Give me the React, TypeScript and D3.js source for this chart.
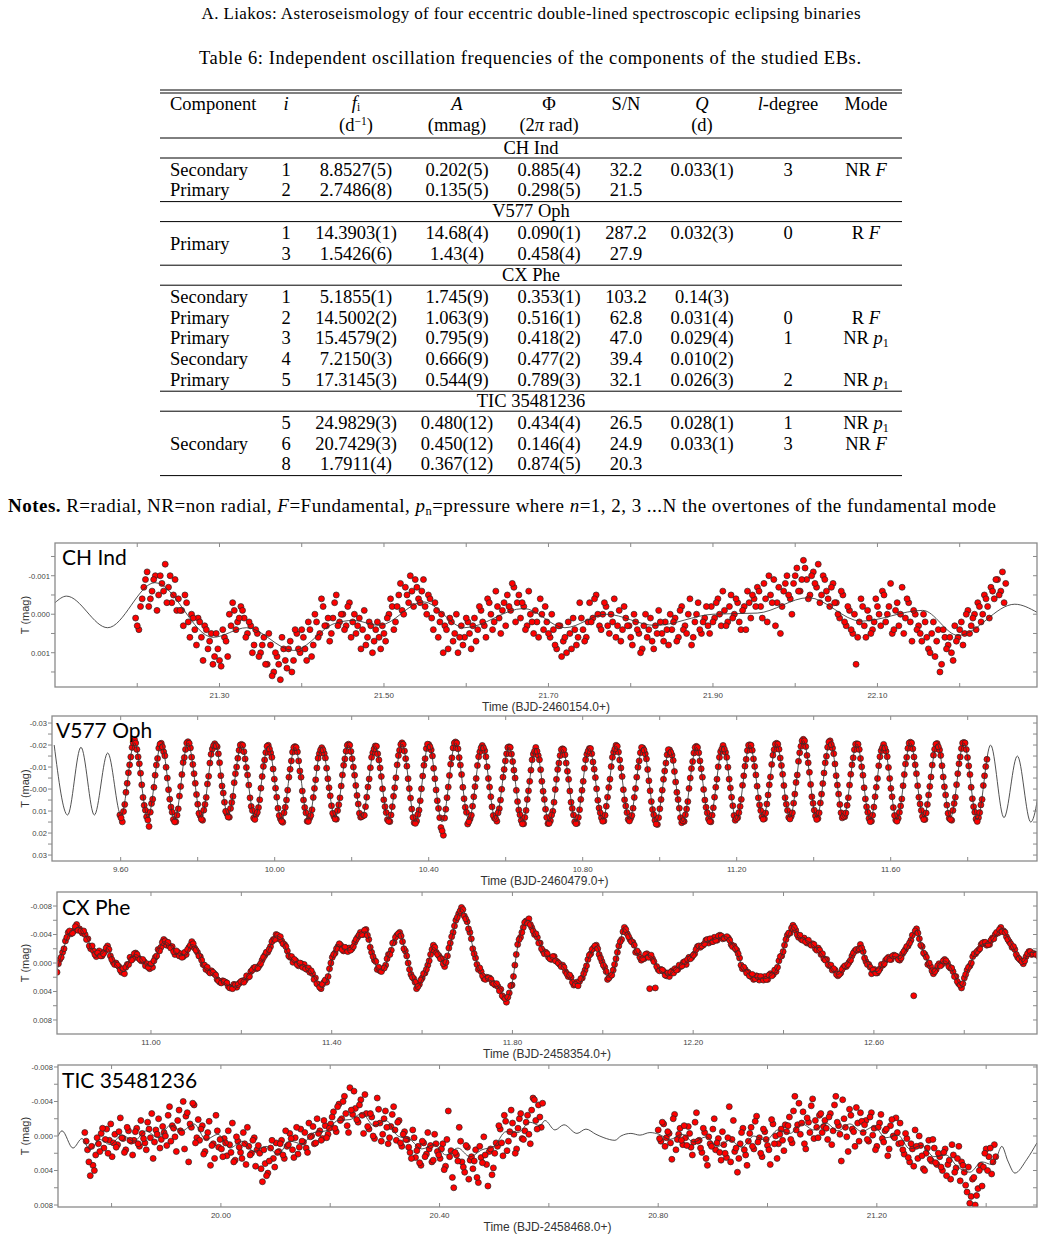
import React from "react";
import * as d3 from "d3";

// ================= Page text =================
const runningHead = "A. Liakos: Asteroseismology of four eccentric double-lined spectroscopic eclipsing binaries";
const tableCaption = "Table 6: Independent oscillation frequencies of the components of the studied EBs.";

// ================= Table data =================
const systemNames = ["CH Ind", "V577 Oph", "CX Phe", "TIC 35481236"];
const systemRowCounts = [2, 2, 5, 3];
const rowComponent = ["Secondary", "Primary", "Primary", "", "Secondary", "Primary", "Primary", "Secondary", "Primary", "Secondary", "", ""];
const rowComponentSpan = [1, 1, 2, 0, 1, 1, 1, 1, 1, 3, 0, 0];
const rowIndex = ["1", "2", "1", "3", "1", "2", "3", "4", "5", "5", "6", "8"];
const rowFreq = ["8.8527(5)", "2.7486(8)", "14.3903(1)", "1.5426(6)", "5.1855(1)", "14.5002(2)", "15.4579(2)", "7.2150(3)", "17.3145(3)", "24.9829(3)", "20.7429(3)", "1.7911(4)"];
const rowAmp = ["0.202(5)", "0.135(5)", "14.68(4)", "1.43(4)", "1.745(9)", "1.063(9)", "0.795(9)", "0.666(9)", "0.544(9)", "0.480(12)", "0.450(12)", "0.367(12)"];
const rowPhase = ["0.885(4)", "0.298(5)", "0.090(1)", "0.458(4)", "0.353(1)", "0.516(1)", "0.418(2)", "0.477(2)", "0.789(3)", "0.434(4)", "0.146(4)", "0.874(5)"];
const rowSN = ["32.2", "21.5", "287.2", "27.9", "103.2", "62.8", "47.0", "39.4", "32.1", "26.5", "24.9", "20.3"];
const rowQ = ["0.033(1)", "", "0.032(3)", "", "0.14(3)", "0.031(4)", "0.029(4)", "0.010(2)", "0.026(3)", "0.028(1)", "0.033(1)", ""];
const rowL = ["3", "", "0", "", "", "0", "1", "", "2", "1", "3", ""];
const rowModeType = ["NR", "", "R", "", "", "R", "NR", "", "NR", "NR", "NR", ""];
const rowModeSymbol = ["F", "", "F", "", "", "F", "p1", "", "p1", "p1", "F", ""];

// ================= Light-curve data (magnitudes in mmag) =================
// ---- CH Ind ----
const chIndXDomain = [21.1, 22.294];
const chIndYDomain = [-1.85, 1.89];
const chIndCadence = 0.004;
const chIndStartA = 21.198;
const chIndMagA = [
  0.1, 0.4, -0.4, -0.9, -0.2, -0.6, -1.0, -0.5, -0.8, -1.3, -0.7, -0.3, -0.9,
  -0.4, -0.1, -0.5, 0.2, 0.0, 0.4, 0.1, 0.6, 0.3, 0.9, 0.5, 1.1,
  0.9, 1.35, 0.6, 1.1, 0.3, -0.1, 0.2, -0.2, 0.1, 0.5, 0.3, 0.8, 0.5,
  1.0, 0.6, 1.3, 0.8, 1.5, 1.1, 1.7, 0.9, 1.4, 0.7, 1.2, 0.5,
  1.0, 0.6, 1.2, 0.4, 0.8, 0.2, 0.5, -0.2, 0.3, 0.7, 0.1, -0.5, 0.2,
  0.0, 0.3, -0.3, 0.2, 0.5, 0.1, 0.4, 0.8, 0.2, 1.0, 0.4, 0.6,
  0.3, 0.7, 0.0, -0.2, 0.2, -0.5, -0.1, -0.7, -0.3, -0.6, -0.9, -0.4, -0.6,
  -0.2, -0.5, 0.1, -0.3, 0.6, 0.0, 0.3, 0.9, 0.2, 0.5, 1.0, 0.3,
  0.6, 0.2, 0.9, 0.1, 0.4, -0.1, 0.3, -0.4, 0.0, 0.2, -0.2, 0.5, -0.3,
  -0.5, -0.1, -0.7, -0.3, 0.1, -0.2, 0.3, 0.0, 0.5, 0.2, -0.4, 0.4,
  0.2, 0.6, 0.4, 0.9, 0.3, 0.7, 1.0, 0.5, 0.1, 0.8, -0.3, 0.4, 0.6,
  -0.3, 0.1, -0.5, 0.3, 0.0, -0.2, 0.5, 0.2, 0.6, -0.1, 0.4, 0.1,
  0.3, 0.8, 0.2, 0.5, 0.9, 0.0, 0.4, 0.7, 0.3, -0.1, 0.5, 0.2, 0.8,
  0.4, 0.1, 0.6, -0.2, 0.3, 0.0, 0.8, 0.2, -0.3, 0.5, 0.1, 0.3,
  -0.2, 0.1, -0.4, 0.3, -0.1, 0.2, -0.5, 0.0, -0.3, 0.4, -0.2, -0.6, 0.1,
  -0.4, -0.7, -0.2, -0.8, 0.2, -0.5, -0.9, -0.3, 0.5, -0.6, -1.0, -0.4,
  -0.8, -1.2, -0.6, -1.4, -0.9, -0.5, -1.1, -0.7, -0.3, -1.0, -0.6, -0.2, -0.8,
  -0.3, 0.1, -0.5, 0.3, -0.1, 0.5, 1.3, 0.2, -0.2, 0.6, 0.1, 0.4,
  -0.4, 0.0, -0.6, 0.2, -0.2, 0.5, -0.1, 0.3, -0.7, 0.1, -0.3, 0.7, 0.0,
  0.3, 0.7, 0.2, 0.9, 0.5, 1.1, 0.4, 1.3, 0.6, 0.8, 1.0, 0.3,
  0.6, 0.2, 0.5, -0.1, 0.3, 0.0, -0.3, 0.2, -0.5, -0.2, -0.7, -0.4, -0.9, -0.6, -0.3,
];
const chIndStartB = 21.2;
const chIndMagB = [
  0.3, -0.2, -0.7, -1.1, -0.4, -0.9, -0.1, -1.0, -0.6, -0.3, -1.0, -0.5, -0.1,
  -0.1, 0.3, -0.3, 0.6, 0.1, 0.8, 0.2, 1.2, 0.4, 0.7, 1.3, 0.5,
  1.2, 0.4, 0.7, 0.0, -0.3, 0.4, 0.1, -0.1, 0.6, 0.2, 1.0, 0.4, 1.1,
  0.8, 1.3, 0.5, 1.6, 1.0, 1.3, 0.6, 1.2, 0.9, 1.5, 0.4, 0.9,
  0.4, 0.9, 0.2, 1.1, 0.0, 0.6, -0.4, 0.3, 0.1, 0.5, -0.3, 0.3, 0.0,
  0.4, -0.2, 0.6, 0.0, 0.3, 0.9, -0.1, 0.6, 0.3, 0.7, 0.2, 0.9,
  0.5, 0.1, -0.4, 0.4, -0.2, -0.8, 0.0, -0.5, -1.0, -0.2, -0.7, -0.3, -0.9,
  0.0, -0.4, 0.4, -0.1, 0.2, 1.0, 0.4, 0.1, 0.7, 0.0, 0.6, 0.8,
  0.1, 0.5, 0.3, 0.7, -0.2, 0.2, 0.6, -0.3, 0.4, -0.6, 0.1, -0.1, 0.3,
  -0.2, -0.8, 0.2, -0.5, -0.3, 0.4, -0.6, 0.2, -0.1, 0.6, 0.0, -0.2,
  0.5, 0.0, 0.8, 0.3, 1.1, 0.6, 0.2, 0.9, 0.4, 0.6, 0.1, 0.7, 0.2,
  0.2, -0.4, 0.0, 0.4, -0.3, 0.3, 0.0, -0.4, 0.3, 0.7, -0.2, 0.3,
  0.6, 0.0, 0.4, 1.0, 0.3, 0.6, 0.1, 0.9, 0.5, 0.2, 0.7, 0.4, 0.0,
  0.2, 0.7, -0.1, 0.4, 0.5, -0.4, 0.6, 0.0, 0.4, 0.2, -0.2, 0.5,
  0.2, -0.3, 0.0, -0.6, 0.3, -0.2, 0.1, -0.4, 0.2, -0.1, 0.4, -0.3, -0.5,
  -0.2, -0.6, 0.1, -0.4, -1.0, -0.3, 0.3, -0.7, -0.2, -0.8, -0.5, 0.0,
  -1.0, -0.6, -0.9, -1.2, -0.4, -1.0, -0.8, -1.3, -0.5, -0.9, -0.4, -0.7, -0.3,
  0.0, -0.6, 0.2, -0.2, 0.4, 0.0, 0.6, -0.4, 0.3, -0.1, 0.5, 0.2,
  -0.2, 0.3, -0.5, 0.0, -0.8, 0.4, -0.3, 0.0, 0.5, -0.4, 0.2, -0.1, 0.4,
  0.5, 0.0, 0.6, 1.0, 0.2, 0.7, 1.5, 0.4, 0.9, 0.6, 1.2, 0.7,
  0.4, 0.8, 0.0, 0.5, 0.1, 0.4, -0.2, 0.0, -0.4, 0.1, -0.6, -0.9, -0.5, -1.1, -0.8,
];
const chIndModelT = [21.1, 21.114, 21.164, 21.2215, 21.292, 21.333, 21.39, 21.44, 21.463, 21.494, 21.548, 21.598, 21.67, 21.72, 21.77, 21.83, 21.9, 21.954, 22.016, 22.08, 22.155, 22.198, 22.267, 22.294];
const chIndModelMag = [-0.3, -0.47, 0.35, -0.82, 0.6, 0.35, 0.94, 0.24, 0.16, 0.29, -0.32, 0.35, -0.15, 0.35, 0.0, 0.29, 0.0, -0.03, -0.43, 0.18, -0.1, 0.55, -0.26, -0.05];
const chIndXTicks = [21.2, 21.3, 21.4, 21.5, 21.6, 21.7, 21.8, 21.9, 22.0, 22.1, 22.2];
const chIndXLabels = [21.3, 21.5, 21.7, 21.9, 22.1];
const chIndYTicks = [-1.5, -1, -0.5, 0, 0.5, 1, 1.5];
const chIndYLabelVals = [-1, 0, 1];
const chIndYLabelText = ["-0.001", "0.000", "0.001"];

// ---- V577 Oph ----
const v577XDomain = [9.4216, 11.98];
const v577YDomain = [-33.2, 32.7];
const v577Frequency = 14.3903; // d^-1 (Table 6, f1)
const v577FirstPeak = 9.4273;
const v577ModelExtrema = [
  -20, 11.8, -19, 11.8, -16.4, 12, -21, 13, -20.5, 14, -21, 13, -21, 12, -20, 13, -19.5, 14, -19, 14,
  -19, 13, -20, 13, -19.5, 14, -20.5, 15, -20.5, 15, -21, 14, -20, 14, -19, 15, -18.5, 15, -18, 15,
  -18.5, 14, -19.5, 14, -19, 15, -18, 15, -19, 14, -19.5, 14, -20, 13, -20.5, 13, -22, 13, -21.5, 13,
  -20.5, 14, -20, 14, -21, 13, -20.5, 13, -21, 14, -20, 13, -15, 15, -18,
];
const v577Start = 9.5979;
const v577MagA = [
  11.8, 14.9, 7.0, -2.6, -11.0, -18.9,
  -22.4, -18.0, -11.5, -1.9, 7.4, 12.6, 17.0, 6.6, -0.8, -10.9, -18.6,
  -20.8, -16.9, -9.9, 0.3, 8.2, 13.8, 14.9, 9.0, -1.2, -12.1, -18.0,
  -21.5, -18.7, -11.2, -2.6, 6.9, 12.1, 14.2, 7.0, -2.3, -11.8, -18.2,
  -20.6, -19.2, -12.0, -1.4, 6.0, 11.2, 12.8, 6.1, -2.9, -10.0, -17.6,
  -20.3, -17.0, -9.8, -1.8, 7.9, 13.2, 11.6, 8.4, -0.4, -10.3, -16.6,
  -19.9, -16.4, -9.1, -0.4, 8.7, 13.5, 15.1, 8.3, 0.5, -9.0, -16.8,
  -19.3, -16.9, -8.2, 0.9, 8.4, 14.6, 13.2, 9.4, -0.3, -9.6, -16.1,
  -18.8, -16.2, -9.5, -0.6, 7.6, 12.4, 13.7, 7.1, -1.4, -10.8, -17.2,
  -20.4, -17.1, -10.0, -1.6, 6.8, 12.8, 12.1, 8.0, -0.9, -9.7, -16.5,
  -19.6, -16.0, -9.6, -0.1, 8.0, 13.9, 14.8, 8.0, -0.6, -11.0, -17.6,
  -21.0, -17.3, -10.4, -0.2, 9.1, 15.3, 14.5, 9.6, -0.1, -10.8, -18.4,
  -20.2, -17.8, -9.4, 0.4, 8.8, 17.5, 21.0, 9.2, -0.9, -11.3, -18.7,
  -21.4, -18.3, -10.9, -0.8, 8.3, 15.9, 13.5, 7.8, -1.1, -10.7, -16.9,
  -19.8, -17.4, -10.1, -0.9, 8.1, 13.2, 14.6, 8.9, 0.1, -8.9, -16.0,
  -19.2, -15.9, -8.6, 0.6, 9.5, 14.3, 15.8, 9.7, 0.8, -8.6, -15.9,
  -18.9, -15.2, -8.8, 1.0, 9.2, 15.7, 14.4, 10.1, 0.2, -8.9, -15.2,
  -18.3, -15.6, -8.1, 0.9, 8.8, 14.9, 15.6, 9.4, 0.6, -9.4, -15.8,
  -18.4, -16.1, -9.0, -0.1, 8.6, 13.1, 14.5, 7.8, -0.7, -10.2, -16.7,
  -19.9, -16.8, -9.6, 0.3, 7.7, 13.8, 13.3, 8.7, -0.2, -9.9, -16.5,
  -18.7, -16.0, -8.9, 0.8, 9.3, 14.2, 16.1, 9.0, 0.5, -8.2, -15.6,
  -17.8, -15.4, -8.0, 1.5, 8.7, 15.3, 14.7, 9.1, -0.3, -9.3, -16.4,
  -19.4, -16.5, -9.2, 0.2, 8.3, 13.6, 14.9, 8.5, -0.8, -10.1, -17.0,
  -19.8, -16.7, -9.9, -0.5, 7.6, 14.2, 13.0, 7.9, -1.7, -10.4, -17.5,
  -20.1, -17.6, -10.3, -1.3, 7.2, 12.6, 13.5, 6.8, -1.9, -11.2, -17.9,
  -20.8, -18.1, -10.7, -1.6, 6.9, 12.9, 12.4, 6.4, -3.0, -12.6, -19.4,
  -22.6, -19.3, -11.9, -2.1, 6.5, 12.2, 13.4, 6.3, -2.5, -11.9, -19.0,
  -21.9, -18.6, -11.4, -1.8, 7.0, 13.1, 12.6, 7.4, -1.8, -11.0, -17.9,
  -20.6, -18.0, -10.1, -0.6, 8.1, 13.4, 14.6, 8.2, -0.8, -10.6, -17.4,
  -20.3, -17.2, -9.8, -0.3, 8.4, 14.1, 13.3, 7.7, -1.5, -11.4, -18.5,
  -21.3, -18.3, -11.0, -1.5, 6.8, 12.5, 13.8, 7.0, -1.2, -10.9, -18.1,
  -20.7, -17.8, -10.6, -1.0, 7.3, 13.3, 14.2, 6.6, -2.0, -11.5, -18.4,
  -21.2, -18.0, -10.5, -0.8, 8.0, 13.6, 13.0, 7.2, -1.6, -10.2,
];
const v577MagB = [
  13.1, 10.2, 1.5, -7.4, -14.6, -21.0,
  -20.9, -14.6, -7.2, 3.8, 9.6, 14.1, 10.5, 4.6, -6.3, -13.9, -20.4,
  -19.2, -15.1, -5.0, 4.6, 10.5, 14.9, 11.9, 3.2, -6.6, -14.3, -20.9,
  -20.8, -14.5, -7.0, 2.5, 11.0, 13.7, 9.6, 3.8, -5.8, -15.8, -19.7,
  -19.7, -16.0, -6.1, 1.8, 10.1, 12.7, 8.8, 3.3, -7.0, -14.0, -20.0,
  -19.9, -13.7, -6.4, 4.0, 9.8, 13.8, 10.6, 4.9, -5.7, -13.2, -19.4,
  -18.2, -14.4, -4.5, 3.7, 12.0, 14.6, 10.8, 5.0, -5.4, -12.8, -18.9,
  -18.9, -12.8, -5.4, 5.0, 10.8, 14.7, 12.0, 3.8, -4.2, -14.0, -17.7,
  -17.8, -14.1, -4.7, 3.1, 11.0, 13.6, 9.8, 4.0, -6.4, -13.7, -19.9,
  -19.9, -13.8, -6.3, 2.9, 11.0, 12.5, 11.9, 3.7, -4.6, -14.4, -18.2,
  -19.4, -13.2, -5.7, 4.9, 10.7, 14.6, 11.8, 3.3, -5.1, -15.2, -20.3,
  -20.3, -13.8, -4.7, 4.1, 12.9, 15.6, 11.6, 5.3, -5.9, -13.8, -20.4,
  -19.2, -15.0, -4.7, 5.3, 13.0, 19.0, 13.2, 3.9, -6.2, -14.2, -20.9,
  -20.9, -14.3, -6.6, 4.4, 10.6, 14.8, 11.9, 3.5, -4.8, -14.7, -18.7,
  -18.7, -14.7, -4.8, 3.5, 12.0, 13.4, 10.8, 5.0, -5.4, -12.8, -18.9,
  -18.9, -12.5, -5.0, 5.7, 11.7, 15.8, 12.9, 4.7, -3.5, -13.3, -17.2,
  -17.2, -13.3, -3.5, 4.7, 12.9, 15.6, 11.8, 6.0, -4.4, -11.8, -17.9,
  -17.9, -11.8, -4.4, 6.0, 11.8, 15.7, 12.9, 4.7, -3.5, -13.3, -17.2,
  -18.4, -12.3, -5.2, 5.1, 10.8, 14.6, 11.9, 3.7, -4.5, -14.4, -18.2,
  -19.4, -13.2, -5.7, 4.9, 10.7, 14.5, 12.0, 3.8, -5.4, -12.8, -18.9,
  -17.7, -13.7, -3.8, 5.7, 11.7, 15.9, 13.0, 4.8, -4.4, -11.8, -17.9,
  -16.7, -13.0, -3.2, 4.8, 13.0, 14.4, 11.7, 5.7, -5.0, -12.5, -18.9,
  -18.9, -12.8, -5.4, 5.0, 10.8, 14.7, 11.9, 3.7, -4.5, -14.4, -18.2,
  -18.2, -14.4, -4.5, 3.7, 12.0, 13.4, 10.7, 4.7, -6.0, -13.5, -19.9,
  -19.9, -13.7, -6.4, 4.0, 9.8, 13.7, 10.9, 2.7, -5.5, -15.4, -20.4,
  -20.4, -14.1, -6.7, 3.9, 9.7, 13.6, 10.8, 2.3, -6.4, -16.5, -21.9,
  -21.9, -15.3, -7.6, 3.5, 9.6, 13.8, 10.8, 2.3, -7.3, -14.9, -21.4,
  -20.2, -16.1, -6.1, 2.3, 10.8, 12.4, 10.9, 3.9, -6.7, -14.2, -20.4,
  -20.4, -13.9, -6.3, 4.5, 10.6, 14.8, 11.9, 3.5, -4.8, -14.7, -18.7,
  -18.7, -14.7, -4.8, 3.5, 12.0, 14.6, 10.6, 4.5, -6.6, -14.4, -20.9,
  -20.9, -14.6, -7.0, 3.7, 9.7, 13.8, 10.9, 2.7, -5.5, -15.4, -20.4,
  -19.2, -15.3, -5.5, 2.7, 11.0, 13.8, 9.7, 3.7, -7.0, -14.6, -20.9,
  -20.9, -14.3, -6.6, 4.4, 10.5, 14.7, 10.7, 4.7, -6.0, -13.5,
];
const v577XTicks = [9.6, 9.8, 10.0, 10.2, 10.4, 10.6, 10.8, 11.0, 11.2, 11.4, 11.6, 11.8];
const v577XLabels = [9.6, 10.0, 10.4, 10.8, 11.2, 11.6];
const v577YTicks = [-30, -25, -20, -15, -10, -5, 0, 5, 10, 15, 20, 25, 30];
const v577YLabelVals = [-30, -20, -10, 0, 10, 20, 30];
const v577YLabelText = ["-0.03", "-0.02", "-0.01", "-0.00", "0.01", "0.02", "0.03"];

// ---- CX Phe ----
const cxPheXDomain = [10.792, 12.961];
const cxPheYDomain = [-9.97, 9.97];
const cxPheStart = 10.792;
const cxPheCadence = 0.006217;
const cxPheModelMag = [
  1.0, -1.6, -3.9, -4.7, -5.0, -3.9, -2.4, -1.1, -1.3, -2.0,
  -0.3, 0.7, 1.2, -0.5, -1.2, -0.6, 0.4, 0.4, -1.6, -3.0,
  -2.6, -1.6, -1.0, -1.4, -2.6, -1.8, 0.4, 0.9, 1.7, 2.4,
  2.9, 3.3, 3.2, 2.7, 1.8, 1.0, 0.2, -0.8, -2.5, -3.8,
  -3.4, -1.5, -0.4, 0.1, 0.5, 1.0, 2.4, 3.4, 2.4, -0.5,
  -2.6, -2.0, -1.8, -2.7, -4.1, -4.4, -1.8, 0.7, 1.0, -0.9,
  -3.1, -4.2, -1.5, 1.3, 3.4, 2.3, 0.1, -2.2, -1.2, 0.3,
  -2.6, -5.8, -7.6, -6.0, -2.3, 0.6, 1.9, 2.4, 2.8, 4.0,
  5.1, 2.9, -2.3, -5.3, -6.0, -4.3, -2.6, -1.2, -0.8, -0.4,
  0.5, 1.6, 2.8, 2.9, 0.8, -1.5, -2.3, -0.5, 2.0, 1.3,
  -2.1, -4.8, -3.6, -1.8, -0.7, -1.1, -0.8, 0.7, 1.4, 1.6,
  1.0, 0.3, -0.1, -1.0, -2.0, -2.8, -3.1, -3.3, -3.6, -3.7,
  -2.8, -1.5, 0.5, 1.5, 2.0, 2.1, 2.2, 1.8, 0.9, -1.2,
  -3.7, -5.1, -3.8, -3.3, -2.9, -2.2, -1.4, -0.3, 0.8, 1.6,
  0.9, -0.3, -1.5, -2.4, -0.4, 1.2, 1.2, 0.1, -0.6, -0.9,
  -0.6, -1.7, -3.4, -4.6, -2.1, -0.1, 1.3, 0.3, -0.3, 0.5,
  2.1, 3.2, 1.3, -0.7, -2.1, -2.7, -2.8, -3.8, -4.8, -3.9,
  -2.5, -1.0, -0.2, -1.4, -1.5, -0.6,
];
const cxPheMagA = [
  1.3, -0.5, -1.5, -3.1, -4.3, -4.1, -4.5, -5.4, -4.8, -4.2, -4.0, -3.4, -2.0, -1.7, -0.9, -1.7, -1.0, -1.6, -2.4, -1.0,
  -0.1, 0.0, 0.5, 1.3, 1.5, 0.2, -0.8, -0.6, -1.4, -0.7, -0.3, -0.2, 0.1, 0.8, 0.6, -0.8, -1.9, -2.2, -3.3, -2.5,
  -2.4, -2.3, -1.2, -1.5, -1.3, -0.9, -1.2, -2.2, -3.0, -2.1, -1.5, -0.9, 0.2, 0.9, 1.2, 1.1, 1.5, 2.3, 2.7, 2.5,
  2.7, 3.3, 3.5, 3.0, 3.4, 2.8, 2.5, 2.4, 2.0, 1.2, 0.7, 0.8, 0.4, -0.4, -1.1, -1.5, -2.3, -3.3, -4.0, -3.4,
  -3.1, -2.6, -1.7, -0.8, -0.1, -0.3, 0.4, 0.1, 0.2, 0.9, 1.3, 1.5, 2.1, 3.0, 3.6, 2.7, 2.7, 0.8, -0.8, -1.4,
  -2.3, -2.5, -1.7, -2.1, -2.1, -2.0, -2.9, -3.6, -4.3, -4.0, -4.7, -3.3, -1.5, -0.4, 0.9, 1.1, 0.8, 0.3, -1.2, -1.8,
  -2.9, -3.9, -4.3, -3.0, -1.7, 0.0, 1.6, 2.2, 3.6, 3.0, 2.1, 1.4, 0.3, -1.2, -2.5, -1.5, -1.0, -0.6, 0.5, -1.0,
  -2.8, -4.3, -6.0, -6.9, -7.8, -6.6, -5.8, -4.3, -2.0, -0.7, 0.9, 1.2, 2.2, 2.0, 2.1, 2.8, 3.1, 3.3, 3.7, 4.8,
  5.5, 4.2, 3.1, 0.3, -2.6, -3.6, -5.0, -5.9, -6.2, -5.0, -4.0, -3.6, -2.8, -1.7, -1.5, -0.8, -0.5, -0.9, -0.2, 0.2,
  0.3, 1.2, 1.9, 2.0, 3.1, 2.7, 2.6, 2.1, 1.0, -0.5, -1.3, -2.1, -2.5, -1.2, -0.2, 0.6, 2.3, 1.8, 1.0, -0.6,
  -2.4, -3.3, -5.0, -4.1, -3.3, -2.9, -1.5, -1.4, -0.4, -0.6, -1.3, 3.6, -0.6, 3.5, 0.9, 0.9, 1.2, 1.8, 1.9, 1.1,
  0.8, 0.9, 0.5, -0.1, 0.2, -0.8, -0.8, -1.3, -2.3, -2.2, -2.5, -3.2, -2.8, -3.0, -3.6, -3.2, -3.9, -3.4, -3.5, -3.5,
  -2.6, -2.4, -1.8, -0.7, 0.8, 0.9, 1.3, 1.9, 2.3, 1.8, 2.4, 2.0, 1.9, 2.3, 1.5, 1.6, 1.2, -0.3, -1.0, -2.5,
  -3.9, -4.2, -5.3, -4.6, -3.6, -3.3, -3.5, -2.8, -2.7, -2.7, -2.0, -2.1, -1.2, -0.6, -0.5, 0.4, 1.0, 1.0, 1.8, 1.4,
  0.6, 0.5, -0.1, -1.0, -1.7, -1.8, -2.6, -1.6, -0.2, 0.2, 1.5, 0.9, 1.4, 0.8, 0.3, -0.4, -0.8, -0.5, -1.1, -0.9,
  -0.4, -1.3, -1.9, -2.4, -3.2, 4.6, -4.8, -3.4, -2.3, -1.2, 0.2, 0.5, 1.5, 0.9, 0.1, 0.2, -0.5, 0.0, 0.7, 1.2,
  1.9, 2.9, 3.5, 2.1, 1.0, 0.4, -0.9, -1.3, -1.8, -2.6, -2.9, -2.5, -2.6, -3.5, -4.0, -4.2, -5.0, -4.5, -3.7, -3.0,
  -2.2, -1.9, -0.8, -0.4, 0.1, -0.9, -1.6, -1.2, -1.3,
];
const cxPheMagB = [
  0.1, -0.8, -2.0, -3.6, -4.5, -4.2, -5.1, -4.6, -4.5, -4.5, -3.3, -2.4, -2.4, -1.2, -1.4, -1.0, -1.3, -2.1, -1.9, -0.5,
  0.2, 0.3, 1.0, 0.8, 0.6, 0.2, -0.4, -1.3, -1.2, -0.5, -0.5, 0.4, 0.6, 0.1, -0.3, -1.0, -1.7, -2.9, -3.1, -2.9,
  -2.1, -1.6, -1.7, -1.0, -0.8, -1.5, -1.9, -2.5, -2.7, -1.8, -1.0, -0.4, 0.3, 0.6, 1.4, 1.3, 1.7, 2.5, 2.8, 2.6,
  2.8, 3.5, 3.6, 3.1, 3.0, 2.6, 2.7, 1.8, 1.9, 1.0, 0.6, 0.7, 0.1, -0.8, -1.5, -1.9, -3.0, -3.3, -3.9, -3.7,
  -2.7, -2.3, -1.0, -0.9, -0.5, 0.2, 0.0, 0.6, 0.8, 0.7, 1.1, 2.3, 2.9, 3.4, 3.0, 2.4, 1.9, 0.0, -1.2, -2.0,
  -2.7, -1.9, -2.2, -1.6, -1.8, -2.3, -3.3, -3.9, -4.0, -4.6, -3.9, -2.2, -0.9, -0.2, 0.6, 1.2, 0.7, -0.6, -1.2, -2.8,
  -3.6, -4.1, -3.8, -2.0, -1.0, 0.9, 2.0, 2.7, 3.3, 2.4, 1.5, 0.9, -0.3, -1.9, -2.2, -1.2, -0.6, 0.1, -0.1, -2.1,
  -3.7, -5.2, -6.4, -7.3, -7.5, -6.2, -4.8, -3.4, -1.3, 0.2, 0.7, 1.8, 2.3, 2.1, 2.3, 2.9, 2.9, 3.9, 4.6, 5.0,
  4.8, 3.2, 1.9, -1.2, -3.3, -4.3, -5.7, -5.6, -5.4, -4.5, -4.1, -2.8, -2.0, -1.3, -1.3, -0.6, -0.9, -0.3, 0.0, 0.5,
  0.6, 1.5, 1.7, 2.7, 3.0, 3.2, 2.2, 1.5, 0.4, -1.1, -1.9, -2.4, -2.0, -0.7, 0.3, 1.2, 2.1, 1.7, 0.2, -1.5,
  -3.0, -4.4, -4.7, -3.7, -3.0, -2.5, -1.7, -0.8, -0.6, -1.2, -0.8, -1.1, -0.2, 0.5, 1.1, 1.0, 1.7, 1.4, 1.3, 1.4,
  1.0, 0.3, 0.4, -0.2, -0.5, -0.6, -1.1, -1.9, -2.4, -2.4, -2.7, -3.3, -3.4, -3.0, -3.2, -3.8, -3.8, -3.5, -3.7, -3.2,
  -2.3, -2.0, -1.3, 0.3, 0.6, 1.4, 1.8, 1.6, 2.2, 1.9, 1.9, 2.4, 2.3, 1.7, 1.8, 1.0, 0.6, -0.9, -1.6, -3.3,
  -4.2, -4.9, -5.0, -4.0, -3.9, -3.2, -3.0, -3.2, -2.5, -2.6, -1.8, -1.8, -1.3, -0.4, 0.2, 0.3, 0.8, 1.6, 1.6, 0.9,
  0.4, 0.2, -0.4, -1.4, -1.9, -2.0, -2.1, -0.7, 0.2, 0.6, 1.0, 1.4, 1.1, 0.2, 0.1, -0.6, -0.5, -1.0, -1.0, -0.5,
  -0.7, -1.6, -2.3, -2.8, -3.9, -4.5, -4.2, -2.5, -1.4, -0.8, 0.0, 1.1, 1.2, 0.4, 0.4, -0.3, -0.3, 0.5, 0.7, 1.9,
  2.6, 3.1, 2.9, 1.6, 0.6, 0.0, -1.3, -1.6, -2.0, -2.8, -2.9, -2.6, -3.2, -3.4, -4.3, -4.7, -4.4, -4.3, -3.3, -2.7,
  -2.3, -1.2, -0.6, -0.2, -0.3, -1.3, -1.6, -1.3, -1.2, -0.9,
];
const cxPheXTicks = [11.0, 11.2, 11.4, 11.6, 11.8, 12.0, 12.2, 12.4, 12.6, 12.8];
const cxPheXLabels = [11.0, 11.4, 11.8, 12.2, 12.6];
const cxPheYTicks = [-8, -6, -4, -2, 0, 2, 4, 6, 8];
const cxPheYLabelVals = [-8, -4, 0, 4, 8];
const cxPheYLabelText = ["-0.008", "-0.004", "0.000", "0.004", "0.008"];

// ---- TIC 35481236 ----
const ticXDomain = [19.702, 21.493];
const ticYDomain = [-8.23, 8.23];
const ticCadence = 0.005;
const ticStart1 = 19.751;
const ticMag1A = [
  -0.4, 1.6, 4.6, 3.4, 2.2,
  0.9, -0.3, 1.4, -0.8, 0.5, 2.4, -0.2, 1.0, -2.1, 0.3, 1.6, -0.6, 0.6,
  0.5, -0.9, 1.2, -0.3, 0.8, -1.6, 0.2, 2.6, -0.7, -2.0, 0.4, -0.4, 1.1, -3.4, -1.2, 0.1,
  -1.8, -0.6, -4.0, -2.3, 3.0, -1.0, -3.6, 0.2,
  0.5, -1.2, 1.8, -0.4, 3.4, 0.9, -2.4, 1.3,
  1.5, 0.3, 2.3, 1.0, -1.5, 2.8, 0.6, 1.9, -0.4, 3.3, 1.2, 2.0, 0.2, 1.6,
  2.0, 5.3, 3.2, 4.3, 1.4, 2.6, 0.8,
  1.8, 0.5, 2.6, 1.2, -0.3, 1.6, 0.2, 2.1, -0.8, 0.7, 1.4, -1.5, 0.0, 0.9, -2.0, -0.6, 0.3, -1.2, -0.2,
  -1.4, -2.8, -0.5, -3.7, -2.0, -4.6, -1.2, -5.6, -2.5, -3.2, -1.6, -4.2, -0.3, -2.6,
  -0.8, -2.2, 0.3, -4.4, -1.5, -0.2, -2.9, 0.9, -1.1, -3.4, 0.5, -1.8, 1.2, -0.5,
  0.4, 1.9, -0.7, 2.5, 1.2, 3.4, 0.8, 2.1, 1.5, 3.0, -0.2, 1.8,
  2.6, 0.9, 3.5, -2.9, 1.7, 6.0, 2.2, -1.0, 3.0, 4.2, 1.3, 2.8,
  3.8, 1.6, 5.4, 2.5, 0.1, 3.3, 1.8, 4.5, 2.0,
  1.2, -0.8, 2.3, -1.7, 0.6, -3.0, -0.2, 1.5, -2.0, 0.3,
  -0.6, -2.4, 0.9, -4.4, -1.8, -3.6, -1.0,
];
const ticMag1B = [
  0.6, 3.0, 1.2, 4.0, 0.2,
  1.8, -0.9, 0.4, 2.0, -1.4, 0.8, 1.3, -0.5, 0.2, 1.9, -1.0, 0.5, 2.2,
  -0.5, 0.9, -1.8, 0.3, 1.6, -0.8, -2.6, 0.7, -0.2, 1.4, -1.1, 0.0, -2.4, 0.6, -0.9, 1.8,
  -3.0, -0.4, 1.5, -2.7, -1.4, -3.8, 0.8, -1.9,
  -0.8, 2.1, 0.2, -1.7, 1.1, 2.6, -0.6, 0.4,
  2.4, 0.8, -0.6, 1.9, 3.0, 0.1, 1.3, 2.6, 0.9, -1.0, 2.2, 0.5, 3.5, 1.1,
  3.8, 1.6, 4.6, 2.9, 0.5, 3.6, 1.9,
  0.9, 2.2, -0.6, 1.0, 0.3, 2.5, -1.0, 1.3, 0.6, -0.4, 1.9, 0.1, -1.1, 0.8, -0.3, 0.5, -1.8, 0.2, -0.9,
  -2.2, -0.9, -3.4, -1.8, -4.0, -2.6, -0.4, -3.0, -5.2, -1.9, -3.6, -2.4, -4.8, -1.1,
  -2.6, 0.0, -1.4, -3.1, 0.6, -2.0, -1.0, 0.2, -2.5, -0.7, -1.6, 0.8, -0.2, 0.4,
  1.3, 2.6, 0.2, 1.7, 3.1, 0.6, 2.4, -0.4, 1.1, 2.8, 0.9, 2.2,
  1.5, 3.9, 0.4, 2.4, 4.8, 1.9, 2.9, 0.6, 3.6, 1.1, 5.0, 2.4,
  2.9, 4.8, 1.2, 3.1, 2.2, 5.8, 1.5, 3.7, 0.8,
  -1.2, 0.8, -2.4, 1.7, -0.5, -1.5, 2.0, -0.9, -2.6, 0.4,
  -1.6, -0.2, -3.0, -4.2, -0.8, -2.2, -3.8,
];
const ticStart2 = 20.8;
const ticMag2A = [
  -0.7, 0.6, -1.4, 0.2, -0.3, 2.7, -2.5, 0.4, -0.9, 1.0,
  0.2, -1.1, 1.3, 0.7, -2.7, 0.5, 1.9, -0.4, 3.4, 0.9, -0.8, 1.6, 0.3, 2.8,
  1.0, 2.5, -3.4, 0.4, 1.8, 4.2, 0.9, -0.9, 2.2,
  0.6, -1.0, 1.5, -2.3, 0.2, 2.4, -0.5, 1.1, 3.3, -1.4, 0.0, 0.9, -0.8, 1.7,
  -0.5, -2.2, 0.8, -4.6, -1.3, -0.2, -2.8, 1.5, -1.6, -3.5, 0.3, -1.0, -2.4, -0.4,
  -1.8, 0.4, -2.6, -0.6, -4.6, -1.2, 2.9, -2.0, 0.1, -3.1, -0.8, 1.2, -1.5, -2.7,
  -0.4, -1.8, 0.6, -2.7, -0.9, 1.2, -1.5, 0.3, -0.6, 2.3, -1.2, 0.0, -2.1, 0.9,
  0.8, 2.1, 0.3, 3.0, 1.5, -0.7, 2.6, 1.1, 3.8, 2.0, 0.5, 2.9, 1.4, 3.3,
  2.4, 4.0, 1.5, 3.3, 5.0, 2.2, 3.7, 1.2, 3.0,
  4.2, 6.5, 7.8, 5.0, 8.0, 6.1, 3.4,
  3.6, 1.5, 2.4, 4.4, 1.0,
];
const ticMag2B = [
  0.3, -1.6, 1.2, -0.5, 0.8, -2.0, 1.6, -0.2, 0.5, -1.2,
  1.1, -0.3, 2.2, -1.6, 0.6, 1.4, -0.9, 2.6, 0.1, 1.2, -2.0, 0.8, 1.9, -0.5,
  2.0, 0.2, 3.0, -1.8, 1.4, 2.6, -0.4, 1.6, 3.4,
  -0.3, 1.2, -1.7, 0.7, 2.0, -0.8, 0.4, 1.6, -1.9, 0.9, 2.6, -0.2, 0.5, -1.3,
  -1.2, 0.4, -2.9, -0.7, -3.8, -1.5, 0.9, -2.1, -0.4, -4.3, -1.8, 0.2, -2.6, -1.1,
  -0.9, -2.2, 1.0, -3.6, -1.6, -0.2, -4.2, -1.0, 1.8, -2.4, -0.5, -3.3, 0.6, -1.7,
  -1.3, 0.4, -2.2, -0.1, 1.6, -1.0, -2.5, 0.7, -0.8, 1.5, -1.9, 0.2, -0.4, -1.5,
  1.6, -0.3, 2.5, 0.9, 3.5, 1.2, 0.0, 2.3, 4.0, 1.4, 2.7, 0.4, 3.1, 2.0,
  3.6, 1.9, 4.6, 2.8, 1.0, 4.2, 2.6, 5.2, 3.4,
  5.7, 3.6, 7.0, 4.8, 6.9, 4.0, 5.8,
  2.0, 4.0, 1.4, 3.0, 2.4,
];
const ticModelT = [
  19.702, 19.7093, 19.7294, 19.7459, 19.7605, 19.7788, 19.7971, 19.8191, 19.841, 19.863,
  19.8849, 19.9069, 19.9288, 19.9508, 19.9727, 19.9947, 20.0166, 20.0386, 20.0605, 20.0825,
  20.1044, 20.1264, 20.1483, 20.1703, 20.1922, 20.2142, 20.2361, 20.2581, 20.28, 20.302,
  20.3239, 20.3459, 20.3678, 20.3898, 20.4117, 20.4337, 20.4556, 20.4776, 20.4995, 20.5215,
  20.5434, 20.5654, 20.5837, 20.5928, 20.6111, 20.6276, 20.6513, 20.6678, 20.6861, 20.7007,
  20.7208, 20.7318, 20.7501, 20.7666, 20.7849, 20.8013, 20.8215, 20.8434, 20.8653, 20.8873,
  20.9092, 20.9312, 20.9531, 20.9751, 20.997, 21.019, 21.0409, 21.0629, 21.0848, 21.1068,
  21.1287, 21.1507, 21.1726, 21.1946, 21.2165, 21.2385, 21.2604, 21.2824, 21.3043, 21.3263,
  21.3482, 21.3702, 21.3921, 21.4104, 21.4178, 21.4287, 21.4397, 21.4525, 21.4745, 21.4928,
];
const ticModelMag = [
  0.0, -0.6, 1.4, 0.3, 1.6, 0.4, 1.0, -0.1, 0.6, -0.6,
  0.2, -1.2, -0.6, -1.4, 0.4, -0.2, 1.4, 0.6, 1.8, 1.2,
  2.1, 0.6, 0.9, -0.4, -0.6, -1.8, -1.9, -2.6, -1.2, -1.8,
  0.0, 0.4, 1.5, 1.0, 2.2, 1.4, 2.4, 1.6, 1.2, -0.5,
  -0.4, -1.6, -1.2, -1.8, -0.7, -1.3, -0.3, -0.8, -0.2, 0.2,
  0.5, 0.0, -0.3, -0.1, -0.4, -0.2, 0.4, -0.2, 0.7, 0.1,
  1.2, 0.5, 1.3, 0.0, 0.5, -0.7, -0.3, -1.4, -0.7, -1.5,
  -0.6, -1.4, -0.5, -1.1, 0.2, -0.1, 1.5, 1.1, 2.4, 2.2,
  3.6, 4.2, 3.0, 3.3, 2.7, 1.2, 2.9, 4.3, 2.7, 0.8,
];
const ticXTicks = [19.8, 20.0, 20.2, 20.4, 20.6, 20.8, 21.0, 21.2, 21.4];
const ticXLabels = [20.0, 20.4, 20.8, 21.2];
const ticYTicks = [-8, -6, -4, -2, 0, 2, 4, 6, 8];
const ticYLabelVals = [-8, -4, 0, 4, 8];
const ticYLabelText = ["-0.008", "-0.004", "0.000", "0.004", "0.008"];

// ================= Fonts =================
const serif = "'Liberation Serif', 'Times New Roman', Times, serif";
const sans = "'Liberation Sans', Arial, Helvetica, sans-serif";
const titleFont = "Lato, 'Liberation Sans', sans-serif";

type PanelSpec = {
  id: string;
  title: string;
  titleX: number;
  titleY: number;
  left: number;
  right: number;
  top: number;
  bottom: number;
  xDomain: number[];
  yDomain: number[];
  xTicks: number[];
  xLabels: number[];
  yTicks: number[];
  yLabelVals: number[];
  yLabelText: string[];
  xTitle: string;
  dataT: number[];
  dataM: number[];
  modelT: number[];
  modelM: number[];
};

const series = (start: number, step: number, vals: number[]) => vals.map((_, i) => start + i * step);
const v577HalfPeriod = 0.5 / v577Frequency;
const v577Step = (2 * v577HalfPeriod) / 11;

const panels: PanelSpec[] = [
  {
    id: "chind", title: "CH Ind", titleX: 62, titleY: 565,
    left: 55, right: 1037, top: 543, bottom: 687,
    xDomain: chIndXDomain, yDomain: chIndYDomain,
    xTicks: chIndXTicks, xLabels: chIndXLabels,
    yTicks: chIndYTicks, yLabelVals: chIndYLabelVals, yLabelText: chIndYLabelText,
    xTitle: "Time (BJD-2460154.0+)",
    dataT: [...series(chIndStartA, chIndCadence, chIndMagA), ...series(chIndStartB, chIndCadence, chIndMagB)],
    dataM: [...chIndMagA, ...chIndMagB],
    modelT: chIndModelT, modelM: chIndModelMag,
  },
  {
    id: "v577", title: "V577 Oph", titleX: 56, titleY: 738,
    left: 52, right: 1037, top: 716, bottom: 861,
    xDomain: v577XDomain, yDomain: v577YDomain,
    xTicks: v577XTicks, xLabels: v577XLabels,
    yTicks: v577YTicks, yLabelVals: v577YLabelVals, yLabelText: v577YLabelText,
    xTitle: "Time (BJD-2460479.0+)",
    dataT: [...series(v577Start, v577Step, v577MagA), ...series(v577Start + v577Step / 2, v577Step, v577MagB)],
    dataM: [...v577MagA, ...v577MagB],
    modelT: series(v577FirstPeak, v577HalfPeriod, v577ModelExtrema),
    modelM: v577ModelExtrema,
  },
  {
    id: "cxphe", title: "CX Phe", titleX: 62, titleY: 915,
    left: 57, right: 1037, top: 892, bottom: 1034,
    xDomain: cxPheXDomain, yDomain: cxPheYDomain,
    xTicks: cxPheXTicks, xLabels: cxPheXLabels,
    yTicks: cxPheYTicks, yLabelVals: cxPheYLabelVals, yLabelText: cxPheYLabelText,
    xTitle: "Time (BJD-2458354.0+)",
    dataT: [
      ...series(cxPheStart, cxPheCadence, cxPheMagA),
      ...series(cxPheStart + cxPheCadence / 2, cxPheCadence, cxPheMagB),
    ],
    dataM: [...cxPheMagA, ...cxPheMagB],
    modelT: series(cxPheStart, 2 * cxPheCadence, cxPheModelMag),
    modelM: cxPheModelMag,
  },
  {
    id: "tic", title: "TIC 35481236", titleX: 62, titleY: 1088,
    left: 58, right: 1037, top: 1065, bottom: 1207,
    xDomain: ticXDomain, yDomain: ticYDomain,
    xTicks: ticXTicks, xLabels: ticXLabels,
    yTicks: ticYTicks, yLabelVals: ticYLabelVals, yLabelText: ticYLabelText,
    xTitle: "Time (BJD-2458468.0+)",
    dataT: [
      ...series(ticStart1, ticCadence, ticMag1A),
      ...series(ticStart1 + ticCadence / 2, ticCadence, ticMag1B),
      ...series(ticStart2, ticCadence, ticMag2A),
      ...series(ticStart2 + ticCadence / 2, ticCadence, ticMag2B),
    ],
    dataM: [...ticMag1A, ...ticMag1B, ...ticMag2A, ...ticMag2B],
    modelT: ticModelT, modelM: ticModelMag,
  },
];

const axisGray = "#8a8a8a";
const fmt2 = d3.format(".2f");

function Panel({ p }: { p: PanelSpec }) {
  const x = d3.scaleLinear().domain(p.xDomain).range([p.left, p.right]);
  const y = d3.scaleLinear().domain(p.yDomain).range([p.top, p.bottom]);
  const pts: [number, number][] = p.modelT.map((t, i) => [t, p.modelM[i]]);
  const line = d3
    .line<[number, number]>()
    .x((d) => x(d[0]))
    .y((d) => y(d[1]))
    .curve(d3.curveMonotoneX);
  const clipId = `clip-${p.id}`;
  const midY = (p.top + p.bottom) / 2;
  const midX = (p.left + p.right) / 2;
  return (
    <g>
      <defs>
        <clipPath id={clipId}>
          <rect x={p.left} y={p.top} width={p.right - p.left} height={p.bottom - p.top} />
        </clipPath>
      </defs>
      <g clipPath={`url(#${clipId})`}>
        {p.dataM.map((m, i) => (
          <circle key={i} cx={x(p.dataT[i])} cy={y(m)} r={3.0} fill="#ff0000" stroke="#262626" strokeWidth={0.7} />
        ))}
        <path d={line(pts) || ""} fill="none" stroke="#333" strokeWidth={0.85} />
      </g>
      <rect x={p.left} y={p.top} width={p.right - p.left} height={p.bottom - p.top} fill="none" stroke={axisGray} strokeWidth={1.3} />
      {p.xTicks.map((t, i) => (
        <g key={`xt${i}`} stroke={axisGray} strokeWidth={1}>
          <line x1={x(t)} x2={x(t)} y1={p.bottom} y2={p.bottom - 4} />
          <line x1={x(t)} x2={x(t)} y1={p.top} y2={p.top + 4} />
        </g>
      ))}
      {p.yTicks.map((v, i) => (
        <g key={`yt${i}`} stroke={axisGray} strokeWidth={1}>
          <line x1={p.left - 4} x2={p.left} y1={y(v)} y2={y(v)} />
          <line x1={p.right - 4} x2={p.right} y1={y(v)} y2={y(v)} />
        </g>
      ))}
      {p.xLabels.map((t, i) => (
        <text key={`xl${i}`} x={x(t)} y={p.bottom + 11} textAnchor="middle" fontFamily={sans} fontSize={8} fill="#444">
          {fmt2(t)}
        </text>
      ))}
      {p.yLabelVals.map((v, i) => (
        <text key={`yl${i}`} x={p.left - 5} y={y(v) + 2.8} textAnchor="end" fontFamily={sans} fontSize={7.6} fill="#444">
          {p.yLabelText[i]}
        </text>
      ))}
      <text x={26} y={midY} transform={`rotate(-90 26 ${midY})`} textAnchor="middle" dominantBaseline="middle" fontFamily={sans} fontSize={11} fill="#333">
        T (mag)
      </text>
      <text x={midX} y={p.bottom + 24} textAnchor="middle" fontFamily={sans} fontSize={12} fill="#333">
        {p.xTitle}
      </text>
      <text x={p.titleX} y={p.titleY} fontFamily={titleFont} fontSize={21} fill="#000">
        {p.title}
      </text>
    </g>
  );
}

function Table() {
  const fs = 18.5;
  const tableLeft = 160;
  const tableRight = 902;
  const colComp = 170;
  const colI = 286;
  const colF = 356;
  const colA = 457;
  const colPhi = 549;
  const colSN = 626;
  const colQ = 702;
  const colL = 788;
  const colMode = 866;

  const rules: number[] = [];
  const nameY: number[] = [];
  const rowCenters: number[] = [];
  let yy = 138;
  systemRowCounts.forEach((n) => {
    rules.push(yy);
    nameY.push(yy + 15.5);
    const nameRule = yy + 20;
    rules.push(nameRule);
    for (let k = 0; k < n; k++) rowCenters.push(nameRule + 11.5 + 20.8 * k);
    yy = nameRule + 20.8 * n + 2;
  });
  const bottomRule = yy;

  const cell = (xx: number, yb: number, s: string, key: string) =>
    s ? (
      <text key={key} x={xx} y={yb} textAnchor="middle">
        {s}
      </text>
    ) : null;

  return (
    <g fontFamily={serif} fontSize={fs} fill="#000">
      <line x1={tableLeft} x2={tableRight} y1={90} y2={90} stroke="#000" strokeWidth={1} />
      <line x1={tableLeft} x2={tableRight} y1={93} y2={93} stroke="#000" strokeWidth={1} />
      <text x={colComp} y={110}>Component</text>
      <text x={colI} y={110} textAnchor="middle" fontStyle="italic">i</text>
      <text x={colF} y={109} textAnchor="middle">
        <tspan fontStyle="italic">f</tspan>
        <tspan fontSize={11.5} dy={2}>i</tspan>
      </text>
      <text x={colA} y={110} textAnchor="middle" fontStyle="italic">A</text>
      <text x={colPhi} y={110} textAnchor="middle">Φ</text>
      <text x={colSN} y={110} textAnchor="middle">S/N</text>
      <text x={colQ} y={110} textAnchor="middle" fontStyle="italic">Q</text>
      <text x={colL} y={110} textAnchor="middle">
        <tspan fontStyle="italic">l</tspan>-degree
      </text>
      <text x={colMode} y={110} textAnchor="middle">Mode</text>
      <text x={colF} y={131} textAnchor="middle">
        (d<tspan fontSize={11.5} dy={-6}>−1</tspan>
        <tspan dy={6}>)</tspan>
      </text>
      <text x={colA} y={131} textAnchor="middle">(mmag)</text>
      <text x={colPhi} y={131} textAnchor="middle">
        (2<tspan fontStyle="italic">π</tspan> rad)
      </text>
      <text x={colQ} y={131} textAnchor="middle">(d)</text>
      {rules.map((r, i) => (
        <line key={`r${i}`} x1={tableLeft} x2={tableRight} y1={r} y2={r} stroke="#000" strokeWidth={1} />
      ))}
      <line x1={tableLeft} x2={tableRight} y1={bottomRule} y2={bottomRule} stroke="#000" strokeWidth={1} />
      {systemNames.map((s, i) => (
        <text key={`s${i}`} x={531} y={nameY[i]} textAnchor="middle">
          {s}
        </text>
      ))}
      {rowCenters.map((c, r) => {
        const yb = c + 6;
        const span = rowComponentSpan[r];
        let comp = null;
        if (span > 0 && rowComponent[r]) {
          const cy = (rowCenters[r] + rowCenters[r + span - 1]) / 2 + 6;
          comp = (
            <text x={colComp} y={cy}>
              {rowComponent[r]}
            </text>
          );
        }
        const sym = rowModeSymbol[r];
        let mode = null;
        if (rowModeType[r]) {
          mode = (
            <text x={colMode} y={yb} textAnchor="middle">
              {rowModeType[r] + " "}
              <tspan fontStyle="italic">{sym.charAt(0)}</tspan>
              {sym.length > 1 ? (
                <tspan fontSize={12} dy={3}>
                  {sym.slice(1)}
                </tspan>
              ) : null}
            </text>
          );
        }
        return (
          <g key={`row${r}`}>
            {comp}
            {cell(colI, yb, rowIndex[r], "i")}
            {cell(colF, yb, rowFreq[r], "f")}
            {cell(colA, yb, rowAmp[r], "a")}
            {cell(colPhi, yb, rowPhase[r], "p")}
            {cell(colSN, yb, rowSN[r], "sn")}
            {cell(colQ, yb, rowQ[r], "q")}
            {cell(colL, yb, rowL[r], "l")}
            {mode}
          </g>
        );
      })}
    </g>
  );
}

export default function App() {
  return (
    <svg
      width={1044}
      height={1241}
      viewBox="0 0 1044 1241"
      style={{ position: "absolute", left: 0, top: 0, display: "block", background: "#fff" }}
    >
      <rect x={0} y={0} width={1044} height={1241} fill="#fff" />
      <text x={531} y={19} textAnchor="middle" fontFamily={serif} fontSize={17} textLength={659} lengthAdjust="spacing">
        {runningHead}
      </text>
      <text x={530} y={64} textAnchor="middle" fontFamily={serif} fontSize={18.5} textLength={662} lengthAdjust="spacing">
        {tableCaption}
      </text>
      <Table />
      <text x={8} y={512} fontFamily={serif} fontSize={19} textLength={988} lengthAdjust="spacing">
        <tspan fontWeight="bold">Notes.</tspan>
        {" R=radial, NR=non radial, "}
        <tspan fontStyle="italic">F</tspan>
        {"=Fundamental, "}
        <tspan fontStyle="italic">p</tspan>
        <tspan fontSize={12.5} dy={3}>n</tspan>
        <tspan dy={-3}>{"=pressure where "}</tspan>
        <tspan fontStyle="italic">n</tspan>
        {"=1, 2, 3 ...N the overtones of the fundamental mode"}
      </text>
      {panels.map((p) => (
        <Panel key={p.id} p={p} />
      ))}
    </svg>
  );
}
